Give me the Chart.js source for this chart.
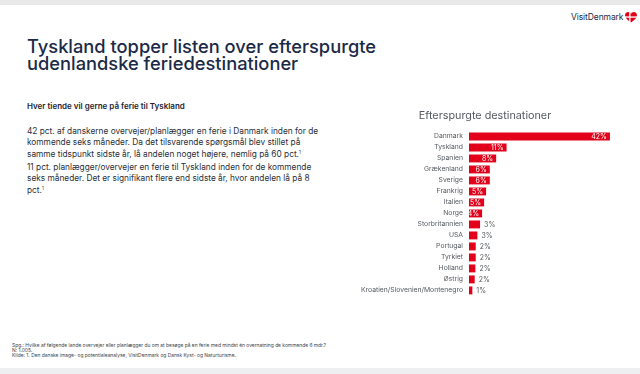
<!DOCTYPE html>
<html>
<head>
<meta charset="utf-8">
<script src="https://cdn.jsdelivr.net/npm/chart.js@4.4.0/dist/chart.umd.min.js"></script>
<style>
  html, body { margin: 0; padding: 0; }
  body { width: 640px; height: 374px; position: relative; overflow: hidden; background: #fff; font-family: Inter, "Noto Sans", sans-serif; }
  .topbar { position: absolute; left: 0; top: 0; width: 640px; height: 5px; background: #e9e9e9; }
  .bottombar { position: absolute; left: 0; top: 368px; width: 640px; height: 6px; background: #eeeff1; }
  .logo { position: absolute; left: 571px; top: 12px; font-size: 8.5px; color: #1b2a47; letter-spacing: -0.1px; }
  .heart { position: absolute; left: 625px; top: 12px; }
  h1 { position: absolute; left: 27px; top: 38px; margin: 0; font-size: 18.3px; line-height: 17px; font-weight: 500; color: #1b2a47; white-space: nowrap; }
  .lead { position: absolute; left: 27px; top: 101px; font-size: 8px; font-weight: 600; color: #1d2433; white-space: nowrap; }
  .para { position: absolute; left: 27px; font-size: 8.3px; line-height: 10.8px; color: #2a2f3a; white-space: nowrap; }
  .para sup { font-size: 4.5px; vertical-align: 3px; }
  .foot { position: absolute; left: 12px; top: 342.5px; font-size: 4.9px; line-height: 5px; color: #3a3f4a; white-space: nowrap; }
  #wrap { position: absolute; left: 350px; top: 104px; width: 290px; height: 202px; }
</style>
</head>
<body>
<div class="topbar"></div>
<div class="bottombar"></div>
<div class="logo">VisitDenmark</div>
<svg class="heart" width="12" height="11" viewBox="0 0 12 11">
  <path d="M6 10.5 C2 7.5 0 5.5 0 3.2 C0 1.3 1.4 0 3.1 0 C4.4 0 5.4 0.8 6 1.8 C6.6 0.8 7.6 0 8.9 0 C10.6 0 12 1.3 12 3.2 C12 5.5 10 7.5 6 10.5 Z" fill="#e2001a"/>
  <rect x="4.2" y="0" width="1.3" height="11" fill="#fff"/>
  <rect x="0" y="4.4" width="12" height="1.3" fill="#fff"/>
</svg>

<h1>Tyskland topper listen over efterspurgte<br>udenlandske feriedestinationer</h1>

<div class="lead">Hver tiende vil gerne på ferie til Tyskland</div>
<div class="para" style="top:126px">42 pct. af danskerne overvejer/planlægger en ferie i Danmark inden for de<br>kommende seks måneder. Da det tilsvarende spørgsmål blev stillet på<br>samme tidspunkt sidste år, lå andelen noget højere, nemlig på 60 pct.<sup>1</sup></div>
<div class="para" style="top:162px">11 pct. planlægger/overvejer en ferie til Tyskland inden for de kommende<br>seks måneder. Det er signifikant flere end sidste år, hvor andelen lå på 8<br>pct.<sup>1</sup></div>

<div class="foot">Spg.: Hvilke af følgende lande overvejer eller planlægger du om at besøge på en ferie med mindst én overnatning de kommende 6 mdr.?<br>N: 1.005.<br>Kilde: 1. Den danske image- og potentialeanalyse, VisitDenmark og Dansk Kyst- og Naturturisme.</div>

<div id="wrap"><canvas id="chart"></canvas></div>

<script>
const countries = [
  'Danmark', 'Tyskland', 'Spanien', 'Grækenland', 'Sverige', 'Frankrig', 'Italien', 'Norge',
  'Storbritannien', 'USA', 'Portugal', 'Tyrkiet', 'Holland', 'Østrig', 'Kroatien/Slovenien/Montenegro'
];
const shares = [42, 11.2, 8.1, 6.2, 6.2, 5.1, 4.5, 3.9, 3.3, 2.5, 2.0, 2.0, 1.9, 1.7, 1.0];

const red = '#e2001a';
const grey = '#555a60';

// Value labels: white inside the longer bars, grey after the short ones
const valueLabels = {
  id: 'valueLabels',
  afterDatasetsDraw(chart) {
    const ctx = chart.ctx;
    const meta = chart.getDatasetMeta(0);
    ctx.save();
    ctx.font = '7px Inter, "Noto Sans", sans-serif';
    ctx.textBaseline = 'middle';
    meta.data.forEach((bar, i) => {
      const v = shares[i];
      const text = Math.round(v) + '%';
      if (v >= 3.5) {
        ctx.fillStyle = '#fff';
        ctx.textAlign = 'right';
        ctx.fillText(text, bar.x - 3, bar.y + 0.5);
      } else {
        ctx.fillStyle = grey;
        ctx.textAlign = 'left';
        ctx.fillText(text, bar.x + 4, bar.y + 0.5);
      }
    });
    ctx.restore();
  }
};

new Chart(document.getElementById('chart'), {
  type: 'bar',
  data: {
    labels: countries,
    datasets: [{
      data: shares,
      backgroundColor: red,
      borderWidth: 0,
      categoryPercentage: 1,
      barPercentage: 0.72
    }]
  },
  options: {
    indexAxis: 'y',
    responsive: true,
    maintainAspectRatio: false,
    animation: false,
    layout: { padding: { top: 0, right: 20, bottom: 3.5, left: 0 } },
    plugins: {
      legend: { display: false },
      tooltip: { enabled: false },
      title: {
        display: true,
        text: 'Efterspurgte destinationer',
        color: '#555a60',
        font: { size: 10.8, family: 'Inter, "Noto Sans", sans-serif', weight: 'normal' },
        padding: { top: 5.5, bottom: 8.5 }
      }
    },
    scales: {
      x: { display: false, min: 0, max: 45 },
      y: {
        grid: { display: false, drawTicks: false },
        border: { display: false },
        ticks: {
          color: grey,
          padding: 6,
          autoSkip: false,
          font: { size: 6.8, family: 'Inter, "Noto Sans", sans-serif' }
        },
        afterFit(scale) { scale.width = 119; }
      }
    }
  },
  plugins: [valueLabels]
});
</script>
</body>
</html>
